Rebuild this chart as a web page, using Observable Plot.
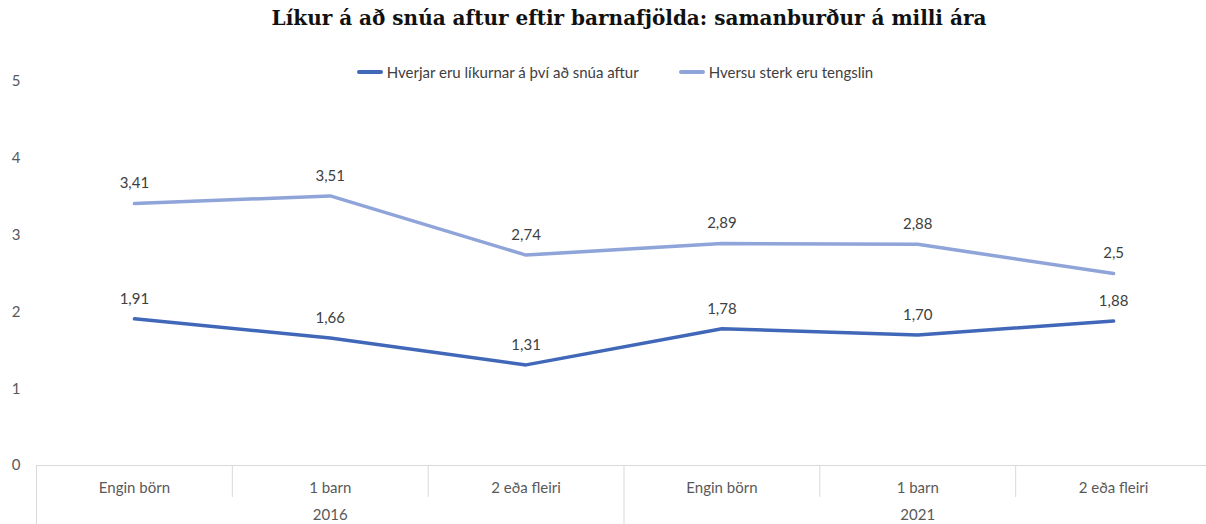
<!DOCTYPE html>
<html><head><meta charset="utf-8">
<script src="https://cdn.jsdelivr.net/npm/d3@7"></script>
<script src="https://cdn.jsdelivr.net/npm/@observablehq/plot@0.6"></script>
<style>
body{margin:0;background:#fff;width:1206px;height:524px;overflow:hidden;font-family:Lato,sans-serif;}
#title{height:48px;box-sizing:border-box;padding-top:6px;padding-left:52px;text-align:center;font:bold 20px "DejaVu Serif";color:#111;white-space:nowrap;}
#wrap{position:relative;}
#legend{position:absolute;top:15px;left:0;width:100%;padding-left:24px;box-sizing:border-box;display:flex;justify-content:center;gap:40px;font-size:15px;color:#404040;}
.item{display:flex;align-items:center;gap:4px;}
.sw{width:26px;height:4px;border-radius:2px;}
</style></head><body>
<div id="title">Líkur á að snúa aftur eftir barnafjölda: samanburður á milli ára</div>
<div id="wrap"><div id="legend"></div><div id="chart"></div></div>
<script>
const categories = ["Engin börn","1 barn","2 eða fleiri","Engin börn","1 barn","2 eða fleiri"];
const years = ["2016","2016","2016","2021","2021","2021"];
const seriesNames = ["Hverjar eru líkurnar á því að snúa aftur","Hversu sterk eru tengslin"];
const likurValues = [1.91,1.66,1.31,1.78,1.70,1.88];
const likurLabels = ["1,91","1,66","1,31","1,78","1,70","1,88"];
const tengslValues = [3.41,3.51,2.74,2.89,2.88,2.5];
const tengslLabels = ["3,41","3,51","2,74","2,89","2,88","2,5"];
const yTicks = [0,1,2,3,4,5];
const colors = ["#4168b8","#8fa4d8"];

const rows = [];
[[likurValues, likurLabels], [tengslValues, tengslLabels]].forEach(([vals, labs], s) => {
  vals.forEach((v, i) => rows.push({i, series: seriesNames[s], value: v, label: labs[i]}));
});
const cats = categories.map((c, i) => ({i, cat: c, year: years[i]}));
const shortSeps = [], longSeps = [-0.5];
for (let i = 1; i < categories.length; i++) {
  (years[i] !== years[i-1] ? longSeps : shortSeps).push(i - 0.5);
}
const yearLabels = Array.from(new Set(years)).map(y => {
  const idx = cats.filter(c => c.year === y).map(c => c.i);
  return {year: y, x: d3.mean(idx)};
});

const legend = document.getElementById("legend");
seriesNames.forEach((n, s) => {
  const it = document.createElement("div"); it.className = "item";
  const sw = document.createElement("span"); sw.className = "sw"; sw.style.background = colors[s];
  const t = document.createElement("span"); t.textContent = n;
  it.append(sw, t); legend.append(it);
});

const gridColor = "#d9d9d9", textColor = "#404040";
const chart = Plot.plot({
  width: 1206, height: 476,
  marginLeft: 36, marginRight: -5, marginTop: 33, marginBottom: 59,
  style: {fontFamily: "Lato, sans-serif", fontSize: "15px", color: textColor, background: "transparent"},
  x: {domain: [-0.5, categories.length - 0.5], axis: null},
  y: {domain: [0, 5], axis: null},
  color: {domain: seriesNames, range: colors},
  marks: [
    Plot.axisY(yTicks, {tickSize: 0, tickPadding: 16, fontSize: 15, fill: "#595959", label: null, tickFormat: d => String(d)}),
    Plot.ruleY([0], {stroke: gridColor}),
    Plot.ruleX(shortSeps, {x: d => d, y1: 0, y2: 0, insetBottom: -32, stroke: gridColor}),
    Plot.ruleX(longSeps, {x: d => d, y1: 0, y2: 0, insetBottom: -60, stroke: gridColor}),
    Plot.line(rows, {x: "i", y: "value", z: "series", stroke: "series", strokeWidth: 3.5, curve: "linear"}),
    Plot.text(rows, {x: "i", y: "value", text: "label", dy: -20, fill: textColor, fontSize: 15}),
    Plot.text(cats, {x: "i", y: 0, text: "cat", dy: 23, fill: "#595959", fontSize: 15}),
    Plot.text(yearLabels, {x: "x", y: 0, text: "year", dy: 50, fill: "#595959", fontSize: 15})
  ]
});
document.getElementById("chart").append(chart);
</script>
</body></html>
